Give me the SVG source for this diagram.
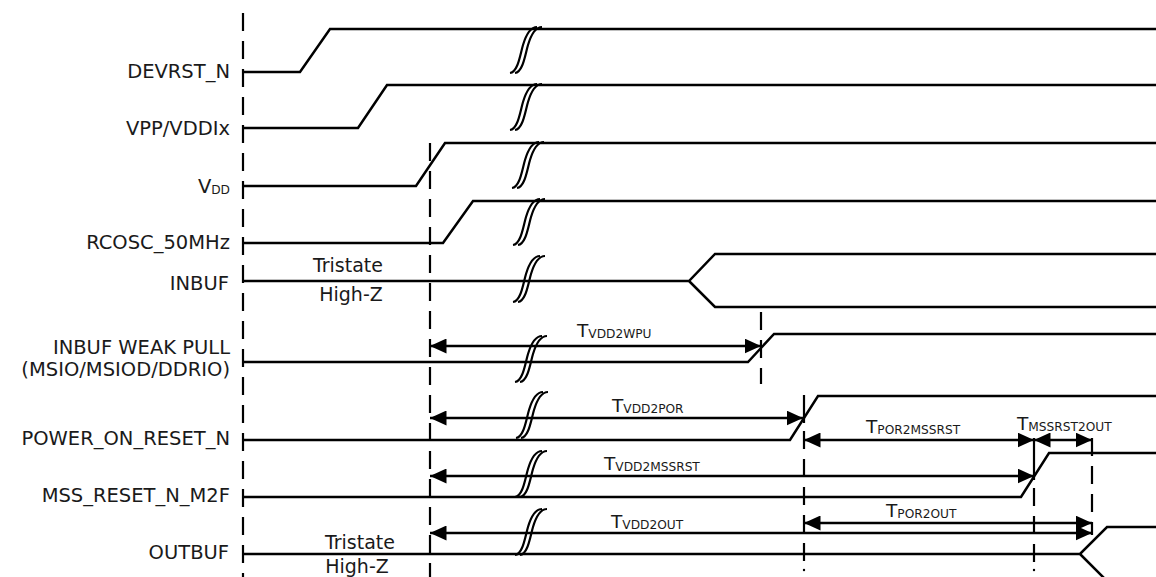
<svg xmlns="http://www.w3.org/2000/svg" xmlns:xlink="http://www.w3.org/1999/xlink" width="1156" height="577" viewBox="0 0 1156 577">
<style>
.sig{fill:none;stroke:#000;stroke-width:2.5;stroke-linejoin:miter}
.dash{fill:none;stroke:#000;stroke-width:2.2;stroke-dasharray:18 10}
.solid{fill:none;stroke:#000;stroke-width:2.2}
.arr{fill:none;stroke:#000;stroke-width:2.5;marker-start:url(#ah);marker-end:url(#ah)}
.brk{fill:none;stroke:#000;stroke-width:2.2}
text{font-family:"DejaVu Sans",Verdana,sans-serif;fill:#1a1a1a}
.lbl{font-size:19.5px;text-anchor:end}
.st{font-size:19px;text-anchor:middle}
.t{font-size:18.5px}
.sub{font-size:12.2px}
</style>
<defs>
<marker id="ah" markerUnits="userSpaceOnUse" markerWidth="17" markerHeight="15" refX="16.5" refY="7.5" orient="auto-start-reverse">
<path d="M0,0 L16.5,7.5 L0,15 z" fill="#000"/>
</marker>
<g id="brk">
<path class="brk" d="M0,0 C8,-1 10,-18 13,-28 C16,-38 20,-46 27,-46"/>
<path class="brk" d="M5,0 C13,-1 15,-18 18,-28 C21,-38 25,-46 32,-46"/>
</g>
</defs>

<g id="guides">
<line class="dash" x1="243" y1="13" x2="243" y2="577"/>
<line class="dash" x1="430" y1="143" x2="430" y2="577"/>
<line class="dash" x1="761" y1="312" x2="761" y2="384"/>
<line class="solid" x1="804" y1="395" x2="804" y2="423"/>
<line class="dash" x1="804" y1="431" x2="804" y2="565"/>
<circle cx="804" cy="570" r="1.2"/>
<line class="solid" x1="1034" y1="438" x2="1034" y2="480"/>
<line class="dash" x1="1034" y1="488" x2="1034" y2="565"/>
<circle cx="1034" cy="570" r="1.2"/>
<line class="dash" x1="1092" y1="438" x2="1092" y2="535"/>
</g>

<g id="DEVRST_N">
<text class="lbl" x="230" y="78">DEVRST_N</text>
<path class="sig" d="M243,72 H300 L330,29 H1156"/>
<use xlink:href="#brk" x="510" y="73"/>
</g>
<g id="VPP_VDDIx">
<text class="lbl" x="230" y="135">VPP/VDDIx</text>
<path class="sig" d="M243,128 H358 L387,85 H1156"/>
<use xlink:href="#brk" x="510" y="130"/>
</g>
<g id="VDD">
<text class="lbl" x="230" y="193">V<tspan class="sub" dy="1">DD</tspan></text>
<path class="sig" d="M243,186 H416 L445,143 H1156"/>
<use xlink:href="#brk" x="512" y="188"/>
</g>
<g id="RCOSC_50MHz">
<text class="lbl" x="230" y="249">RCOSC_50MHz</text>
<path class="sig" d="M243,243 H443 L473,201 H1156"/>
<use xlink:href="#brk" x="513" y="245"/>
</g>
<g id="INBUF">
<text class="lbl" x="229" y="290">INBUF</text>
<text class="st" x="348" y="272">Tristate</text>
<text class="st" x="351" y="301">High-Z</text>
<path class="sig" d="M243,281 H689 L715,254 H1156 M689,281 L715,307 H1156"/>
<use xlink:href="#brk" x="513" y="302"/>
</g>
<g id="INBUF_WEAK_PULL">
<text class="lbl" x="230" y="354">INBUF WEAK PULL</text>
<text class="lbl" x="230" y="376">(MSIO/MSIOD/DDRIO)</text>
<path class="sig" d="M243,362 H748 L774,334 H1156"/>
<use xlink:href="#brk" x="515" y="382"/>
</g>
<g id="POWER_ON_RESET_N">
<text class="lbl" x="230" y="445">POWER_ON_RESET_N</text>
<path class="sig" d="M243,440 H790 L818,396 H1156"/>
<use xlink:href="#brk" x="516" y="438"/>
</g>
<g id="MSS_RESET_N_M2F">
<text class="lbl" x="230" y="502">MSS_RESET_N_M2F</text>
<path class="sig" d="M243,497 H1021 L1049,453 H1156"/>
<use xlink:href="#brk" x="515" y="497"/>
</g>
<g id="OUTBUF">
<text class="lbl" x="229" y="559">OUTBUF</text>
<text class="st" x="360" y="549">Tristate</text>
<text class="st" x="357" y="573">High-Z</text>
<path class="sig" d="M243,554 H1080 L1107,527 H1156 M1080,554 L1107,581"/>
<use xlink:href="#brk" x="515" y="555"/>
</g>

<g id="connectors">
<line class="arr" x1="430" y1="346" x2="761" y2="346"/>
<line class="arr" x1="430" y1="418" x2="803" y2="418"/>
<line class="arr" x1="804" y1="440" x2="1034" y2="440"/>
<line class="arr" x1="1034" y1="440" x2="1092" y2="440"/>
<line class="arr" x1="430" y1="476" x2="1034" y2="476"/>
<line class="arr" x1="804" y1="523" x2="1092" y2="523"/>
<line class="arr" x1="430" y1="533" x2="1092" y2="533"/>
</g>

<g id="timing-labels">
<text class="t" x="577" y="337">T<tspan class="sub" dy="1">VDD2WPU</tspan></text>
<text class="t" x="612" y="412">T<tspan class="sub" dy="1">VDD2POR</tspan></text>
<text class="t" x="866" y="433">T<tspan class="sub" dy="1">POR2MSSRST</tspan></text>
<text class="t" x="1017" y="430">T<tspan class="sub" dy="1">MSSRST2OUT</tspan></text>
<text class="t" x="604" y="470">T<tspan class="sub" dy="1">VDD2MSSRST</tspan></text>
<text class="t" x="611" y="528">T<tspan class="sub" dy="1">VDD2OUT</tspan></text>
<text class="t" x="886" y="517">T<tspan class="sub" dy="1">POR2OUT</tspan></text>
</g>
</svg>
